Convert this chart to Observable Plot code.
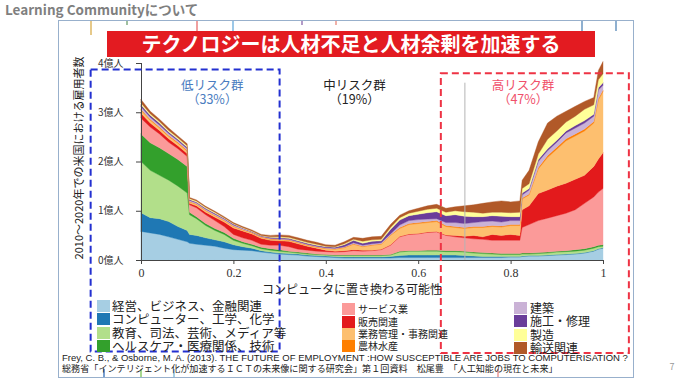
<!DOCTYPE html>
<html><head><meta charset="utf-8">
<script src="https://cdn.jsdelivr.net/npm/d3@7"></script>
<script src="https://cdn.jsdelivr.net/npm/@observablehq/plot@0.6"></script>
<style>
html,body{margin:0;padding:0;background:#fff;}
#slide{position:relative;width:680px;height:383px;overflow:hidden;font-family:"Noto Sans CJK JP","Noto Sans",sans-serif;color:#222;}
.a{position:absolute;white-space:nowrap;line-height:1;}
.c{transform:translate(-50%,-50%);}
.l{transform:translate(0,-50%);}
#chart{position:absolute;left:0;top:0;}
</style></head>
<body><div id="slide"></div>
<script>
// ---------- data ----------
const xs = [0,0.02,0.04,0.06,0.08,0.10,0.105,0.12,0.14,0.16,0.18,0.20,0.22,0.24,0.26,0.28,0.30,0.32,0.34,0.36,0.38,0.40,0.42,0.44,0.46,0.48,0.50,0.52,0.54,0.56,0.58,0.60,0.62,0.64,0.66,0.68,0.70,0.72,0.74,0.76,0.78,0.80,0.82,0.825,0.84,0.86,0.88,0.90,0.92,0.94,0.96,0.98,0.99,1.0];
const categories = ["経営、ビジネス、金融関連","コンピューター、工学、化学","教育、司法、芸術、メディア等","ヘルスケア・医療関係、技術","サービス業","販売関連","業務管理・事務関連","農林水産","建築","施工・修理","製造","輸送関連"];
const colors = ["#a6cee3","#1f78b4","#b2df8a","#33a02c","#fb9a99","#e31a1c","#fdbf6f","#ff7f00","#cab2d6","#6a3d9a","#ffff99","#b15928"];
// upper edge (cumulative, 億人) of each stacked band
const edgeKeiei   = [.58,.55,.52,.47,.42,.37,.34,.32,.30,.28,.24,.21,.20,.19,.16,.14,.12,.11,.10,.08,.07,.06,.05,.04,.04,.04,.04,.04,.04,.05,.05,.05,.05,.05,.05,.05,.05,.05,.05,.05,.05,.06,.06,.07,.08,.08,.09,.10,.11,.12,.14,.18,.22,.24];
const edgeComp    = [.96,.86,.84,.78,.68,.60,.52,.50,.45,.41,.37,.31,.27,.24,.19,.16,.14,.13,.12,.10,.09,.08,.07,.06,.06,.06,.06,.06,.07,.09,.10,.10,.10,.10,.10,.10,.09,.08,.07,.07,.07,.07,.07,.08,.09,.09,.10,.11,.12,.13,.15,.19,.23,.25];
const edgeKyoiku  = [2.00,1.82,1.72,1.62,1.50,1.36,.92,.84,.70,.60,.52,.40,.34,.29,.23,.20,.18,.16,.14,.12,.11,.10,.09,.09,.09,.09,.09,.09,.10,.16,.18,.18,.18,.18,.17,.17,.16,.14,.13,.12,.11,.11,.11,.12,.12,.13,.14,.16,.17,.18,.20,.24,.27,.28];
const edgeHealth  = [2.56,2.38,2.28,2.16,2.04,1.90,.97,.88,.74,.64,.56,.44,.37,.32,.26,.23,.21,.18,.16,.14,.12,.11,.10,.10,.10,.10,.10,.10,.11,.18,.19,.19,.20,.20,.19,.19,.18,.16,.15,.14,.13,.13,.13,.14,.14,.15,.16,.18,.19,.21,.23,.27,.30,.31];
const edgeService = [2.88,2.70,2.56,2.39,2.26,2.10,1.12,1.06,.92,.80,.68,.52,.45,.40,.32,.30,.30,.27,.22,.20,.18,.17,.16,.17,.19,.18,.19,.21,.30,.47,.52,.53,.56,.57,.50,.47,.45,.43,.42,.40,.40,.40,.40,.66,.72,.80,.85,.90,.95,1.02,1.15,1.28,1.38,1.45];
const edgeSales   = [2.98,2.78,2.63,2.46,2.32,2.16,1.15,1.10,.97,.87,.77,.65,.59,.53,.44,.40,.39,.38,.33,.28,.24,.20,.18,.19,.21,.20,.20,.22,.31,.48,.53,.54,.57,.58,.51,.50,.48,.50,.47,.52,.50,.52,.50,1.02,1.10,1.35,1.42,1.50,1.56,1.64,1.72,1.90,2.05,2.18];
const edgeOffice  = [3.04,2.84,2.68,2.51,2.37,2.21,1.18,1.13,1.00,.90,.80,.68,.61,.55,.46,.42,.41,.40,.35,.30,.26,.23,.22,.25,.32,.27,.30,.32,.50,.64,.72,.74,.76,.78,.68,.66,.64,.66,.66,.68,.67,.70,.70,1.24,1.32,1.85,2.08,2.25,2.42,2.52,2.62,2.78,3.25,3.42];
const edgeFarm    = [3.06,2.86,2.70,2.53,2.39,2.23,1.19,1.14,1.01,.91,.81,.69,.62,.56,.47,.43,.42,.41,.36,.31,.27,.24,.23,.26,.33,.28,.31,.33,.51,.66,.74,.76,.78,.80,.70,.68,.66,.68,.68,.70,.69,.72,.72,1.26,1.34,1.88,2.12,2.29,2.46,2.56,2.66,2.81,3.28,3.45];
const edgeBuild   = [3.11,2.90,2.74,2.57,2.42,2.26,1.21,1.16,1.03,.93,.83,.71,.64,.57,.48,.44,.43,.42,.37,.32,.28,.25,.24,.27,.35,.30,.33,.35,.53,.71,.80,.82,.83,.84,.76,.76,.74,.76,.78,.79,.77,.80,.80,1.32,1.42,2.00,2.22,2.39,2.58,2.68,2.78,2.92,3.45,3.55];
const edgeRepair  = [3.15,2.94,2.78,2.60,2.45,2.29,1.23,1.18,1.05,.95,.85,.73,.65,.58,.49,.46,.45,.44,.39,.34,.30,.27,.26,.31,.40,.34,.38,.39,.62,.81,.90,.93,.96,.98,.90,.92,.89,.88,.88,.90,.89,.88,.88,1.36,1.45,2.04,2.26,2.43,2.62,2.73,2.83,2.96,3.50,3.60];
const edgeMaker   = [3.19,2.97,2.81,2.63,2.48,2.32,1.25,1.20,1.07,.97,.86,.74,.66,.59,.50,.47,.47,.46,.41,.36,.32,.28,.27,.33,.42,.38,.41,.42,.66,.86,.95,.99,1.03,1.05,.97,1.00,.98,.97,.95,.97,.97,.96,.97,1.45,1.55,2.15,2.45,2.62,2.80,2.92,3.06,3.15,3.66,3.78];
const edgeTrans   = [3.26,3.02,2.86,2.68,2.52,2.36,1.27,1.22,1.09,.99,.88,.76,.68,.61,.52,.50,.51,.50,.45,.40,.36,.31,.30,.37,.46,.44,.47,.48,.72,.91,1.00,1.05,1.10,1.13,1.05,1.08,1.10,1.12,1.15,1.18,1.20,1.18,1.20,1.62,1.82,2.40,2.78,2.92,3.02,3.12,3.22,3.30,3.85,4.03];
const xTicks = [0,0.2,0.4,0.6,0.8,1];
const xTickLabels = ["0","0.2","0.4","0.6","0.8","1"];
const yTicks = [0,1,2,3,4];
const yTickLabels = ["0億人","1億人","2億人","3億人","4億人"];
const groupNames = ["低リスク群","中リスク群","高リスク群"];
const groupShares = ["（33%）","（19%）","（47%）"];

// ---------- build ----------
const edges = [edgeKeiei,edgeComp,edgeKyoiku,edgeHealth,edgeService,edgeSales,edgeOffice,edgeFarm,edgeBuild,edgeRepair,edgeMaker,edgeTrans];
const rows = [];
edges.forEach((e, c) => xs.forEach((x, j) => rows.push({cat: categories[c], x, y1: c === 0 ? 0 : edges[c-1][j], y2: e[j]})));

const slide = document.getElementById("slide");
function add(html, style, cls="a") {
  const d = document.createElement("div");
  d.className = cls; d.innerHTML = html; d.setAttribute("style", style);
  slide.appendChild(d); return d;
}
// frame and decorative ticks
add("", "left:58px;top:20px;width:574px;height:356px;border:1px solid #98b0cc;");
[[90,"#e6c98a",14],[126,"#9fc0a0",4],[196,"#f0a0a0",10],[232,"#9cc8e8",10],[301,"#b39bc8",4],[335,"#f0b0a8",4],[581,"#8fb0d0",10],[615,"#8fb0d0",10]]
  .forEach(([x,c,h]) => add("", `left:${x}px;top:21px;width:2px;height:${h}px;background:${c};`));
[[103,"#7aa0d0"],[140,"#a8d890"],[173,"#a6cee3"],[497,"#f0b0b0"]]
  .forEach(([x,c]) => add("", `left:${x}px;top:369px;width:2px;height:8px;background:${c};`));

add("Learning Communityについて", "left:5px;top:3px;font-size:13.5px;font-weight:bold;color:#7f7f7f;");
add("テクノロジーは人材不足と人材余剰を加速する", "left:107px;top:31px;width:488px;height:26px;background:#e31b21;color:#fff;font-weight:bold;font-size:20px;line-height:26px;text-align:center;");

// chart
const chartDiv = document.createElement("div"); chartDiv.id = "chart"; slide.appendChild(chartDiv);
const groups = [
  {x: 0.153, color: "#4a7cc0"},
  {x: 0.461, color: "#222"},
  {x: 0.826, color: "#f0506a"}
].map((g, i) => ({...g, name: groupNames[i], share: groupShares[i]}));

const plot = Plot.plot({
  width: 680, height: 383,
  marginLeft: 141, marginRight: 77, marginTop: 63, marginBottom: 123,
  x: {domain: [0, 1]},
  y: {domain: [0, 4]},
  color: {domain: categories, range: colors},
  style: {background: "transparent", overflow: "visible", fontFamily: "Noto Sans CJK JP"},
  marks: [
    Plot.areaY(rows, {x: "x", y1: "y1", y2: "y2", z: "cat", fill: "cat", stroke: "cat", strokeWidth: 0.4, curve: "linear"}),
    Plot.ruleX([0.7], {y1: 0, y2: 3.6, stroke: "#b4b4b4", strokeWidth: 1}),
    Plot.ruleX([0], {y1: 0, y2: 4, stroke: "#444"}),
    Plot.ruleY([0], {x1: 0, x2: 1, stroke: "#444"}),
    Plot.axisX({ticks: xTicks, tickFormat: d => xTickLabels[xTicks.indexOf(d)], tickSize: 4, tickPadding: 4, label: null, fontSize: 12, fontFamily: "Liberation Serif", stroke: "#444", fill: "#333"}),
    Plot.axisY({ticks: yTicks, tickFormat: d => yTickLabels[yTicks.indexOf(d)], tickSize: 5, tickPadding: 13, label: null, fontSize: 10, stroke: "#444", fill: "#333"}),
    Plot.rect([{x1: -0.109, x2: 0.3, y1: -1.86, y2: 3.87}], {x1: "x1", x2: "x2", y1: "y1", y2: "y2", fill: "none", stroke: "#2330d0", strokeWidth: 2, strokeDasharray: "7,4"}),
    Plot.rect([{x1: 0.649, x2: 1.056, y1: -1.89, y2: 3.79}], {x1: "x1", x2: "x2", y1: "y1", y2: "y2", fill: "none", stroke: "#ee3344", strokeWidth: 2, strokeDasharray: "7,4"}),
    Plot.text(groups, {x: "x", y: 3.55, text: "name", fill: "color", fontSize: 12.5}),
    Plot.text(groups, {x: "x", y: 3.25, text: "share", fill: "color", fontSize: 12.5})
  ]
});
chartDiv.appendChild(plot);

// axis titles
add("2010～2020年での米国における雇用者数", "left:78px;top:158px;font-size:11px;color:#222;transform:translate(-50%,-50%) rotate(-90deg);");
add("コンピュータに置き換わる可能性", "left:352px;top:289px;font-size:12px;color:#222;", "a c");

// legend
const legendCols = [
  {sx: 97, tx: 112, ys: [305.5, 319, 332.5, 345.5], fs: 12.5},
  {sx: 342, tx: 358, ys: [309, 321.5, 333.5, 345.5], fs: 10},
  {sx: 514, tx: 530, ys: [307.5, 321, 334.5, 347.5], fs: 12}
];
categories.forEach((cat, i) => {
  const col = legendCols[Math.floor(i / 4)], y = col.ys[i % 4];
  add("", `left:${col.sx}px;top:${y-6}px;width:13px;height:12px;background:${colors[i]};`);
  add(cat, `left:${col.tx}px;top:${y}px;font-size:${col.fs}px;line-height:${col.fs}px;color:#222;`, "a l");
});

// citations
add("Frey, C. B., &amp; Osborne, M. A. (2013). THE FUTURE OF EMPLOYMENT :HOW SUSCEPTIBLE ARE JOBS TO COMPUTERISATION ?", "left:62px;top:357.5px;font-size:9.5px;font-family:'Liberation Sans',sans-serif;color:#222;", "a l");
add("総務省「インテリジェント化が加速するＩＣＴの未来像に関する研究会」第１回資料　松尾豊　「人工知能の現在と未来」", "left:62px;top:369px;font-size:9.1px;color:#222;", "a l");
add("7", "left:672px;top:366px;font-size:9px;color:#999;", "a c");
</script>
</body></html>
